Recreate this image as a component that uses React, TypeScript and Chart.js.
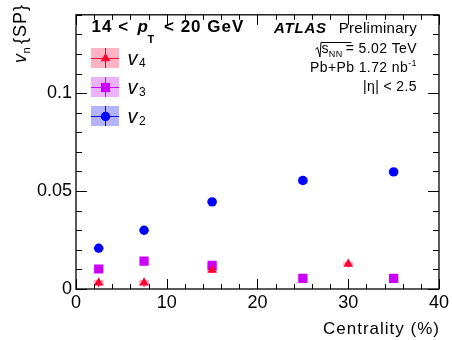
import React, { useEffect, useRef } from 'react';
import { Chart, registerables } from 'chart.js';

Chart.register(...registerables);

const FONT = '"Liberation Sans", Arial, Helvetica, sans-serif';

// ---- data ----
const centrality = [2.5, 7.5, 15, 25, 35];
const v2Values = [0.0208, 0.030, 0.0445, 0.0554, 0.0598];
const v2Stat = [0.0007, 0.0007, 0.0007, 0.0009, 0.0009];
const v2Sys = [0.0006, 0.0006, 0.0008, 0.0016, 0.0012];

const v3Values = [0.0102, 0.0142, 0.0121, 0.0054, 0.0054];
const v3Stat = [0.0009, 0.0009, 0.0009, 0.0012, 0.0014];
const v3Sys = [0.0006, 0.0008, 0.0012, 0.0012, 0.0022];

const v4Centrality = [2.5, 7.5, 15, 30];
const v4Values = [0.0032, 0.0032, 0.0097, 0.0128];
const v4Stat = [0.0022, 0.0022, 0.0016, 0.0018];
const v4Sys = [0.0014, 0.0014, 0.0012, 0.0012];

const xTickValues = [0, 10, 20, 30, 40];
const xTickLabels = ['0', '10', '20', '30', '40'];
const yTickValues = [0, 0.05, 0.1];
const yTickLabels = ['0', '0.05', '0.1'];
const xMinorStep = 2;
const yMinorStep = 0.01;

const RED = '#ff0033';
const RED_FILL = '#ffb3c3';
const MAG = '#cc00ff';
const MAG_FILL = '#ebb3ff';
const BLUE = '#0000ff';
const BLUE_FILL = '#b3b3ff';

const series = [
  { sub: '4', x: v4Centrality, y: v4Values, stat: v4Stat, sys: v4Sys, color: RED, fill: RED_FILL, style: 'triangle', radius: 5.5 },
  { sub: '3', x: centrality, y: v3Values, stat: v3Stat, sys: v3Sys, color: MAG, fill: MAG_FILL, style: 'rect', radius: 6.5 },
  { sub: '2', x: centrality, y: v2Values, stat: v2Stat, sys: v2Sys, color: BLUE, fill: BLUE_FILL, style: 'circle', radius: 4.7 },
];

function drawMarker(ctx: CanvasRenderingContext2D, style: string, x: number, y: number, color: string) {
  ctx.fillStyle = color;
  ctx.beginPath();
  if (style === 'circle') {
    ctx.arc(x, y, 4.7, 0, Math.PI * 2);
  } else if (style === 'rect') {
    ctx.rect(x - 4.6, y - 4.6, 9.2, 9.2);
  } else {
    const r = 5.5;
    ctx.moveTo(x, y - r);
    ctx.lineTo(x + r * 0.866, y + r * 0.5);
    ctx.lineTo(x - r * 0.866, y + r * 0.5);
    ctx.closePath();
  }
  ctx.fill();
}

type Seg = { t: string; f: string; dy?: number; gap?: number; sqrt?: boolean };

function drawRichRight(ctx: CanvasRenderingContext2D, right: number, base: number, segs: Seg[]) {
  let total = 0;
  const widths = segs.map((s) => {
    ctx.font = s.f;
    const w = ctx.measureText(s.t).width + (s.gap || 0);
    total += w;
    return w;
  });
  let x = right - total;
  segs.forEach((s, i) => {
    ctx.font = s.f;
    ctx.textAlign = 'left';
    ctx.fillText(s.t, x + (s.gap || 0), base + (s.dy || 0));
    x += widths[i];
  });
  return right - total;
}

const errorPlugin = {
  id: 'errorBars',
  beforeDatasetsDraw(chart: any) {
    const ctx = chart.ctx as CanvasRenderingContext2D;
    const xs = chart.scales.x;
    const ys = chart.scales.y;
    const area = chart.chartArea;
    ctx.save();
    ctx.beginPath();
    ctx.rect(area.left, area.top, area.right - area.left, area.bottom - area.top);
    ctx.clip();
    series.forEach((s) => {
      s.x.forEach((xv, i) => {
        const px = xs.getPixelForValue(xv);
        const x0 = xs.getPixelForValue(xv - 0.55);
        const x1 = xs.getPixelForValue(xv + 0.55);
        const yTop = ys.getPixelForValue(s.y[i] + s.sys[i]);
        const yBot = ys.getPixelForValue(s.y[i] - s.sys[i]);
        ctx.fillStyle = s.fill;
        ctx.fillRect(x0, yTop, x1 - x0, yBot - yTop);
        ctx.strokeStyle = s.color;
        ctx.lineWidth = 1;
        ctx.beginPath();
        ctx.moveTo(px, ys.getPixelForValue(s.y[i] + s.stat[i]));
        ctx.lineTo(px, ys.getPixelForValue(s.y[i] - s.stat[i]));
        ctx.stroke();
      });
    });
    ctx.restore();
  },
};

const decorPlugin = {
  id: 'decor',
  afterDraw(chart: any) {
    const ctx = chart.ctx as CanvasRenderingContext2D;
    const xs = chart.scales.x;
    const ys = chart.scales.y;
    const { left, right, top, bottom } = chart.chartArea;
    ctx.save();
    // frame
    ctx.strokeStyle = '#000';
    ctx.lineWidth = 1.3;
    ctx.strokeRect(left, top, right - left, bottom - top);
    ctx.lineWidth = 1;
    ctx.beginPath();
    // y ticks
    for (let v = 0; v <= ys.max + 1e-9; v += yMinorStep) {
      const py = Math.round(ys.getPixelForValue(v)) + 0.5;
      const major = yTickValues.some((t) => Math.abs(t - v) < 1e-6);
      const len = major ? 11 : 6;
      ctx.moveTo(left, py);
      ctx.lineTo(left + len, py);
      ctx.moveTo(right, py);
      ctx.lineTo(right - len, py);
    }
    // x ticks
    for (let v = 0; v <= xs.max + 1e-9; v += xMinorStep) {
      const px = Math.round(xs.getPixelForValue(v)) + 0.5;
      const major = xTickValues.some((t) => Math.abs(t - v) < 1e-6);
      const len = major ? 10 : 5;
      ctx.moveTo(px, bottom);
      ctx.lineTo(px, bottom - len);
      ctx.moveTo(px, top);
      ctx.lineTo(px, top + len);
    }
    ctx.stroke();

    ctx.fillStyle = '#000';
    ctx.textBaseline = 'alphabetic';

    // x title
    (ctx as any).letterSpacing = '1px';
    ctx.font = `17px ${FONT}`;
    ctx.textAlign = 'right';
    ctx.fillText('Centrality (%)', right + 1, 334);

    // y title (rotated)
    ctx.save();
    ctx.translate(26, 63);
    ctx.rotate(-Math.PI / 2);
    ctx.textAlign = 'left';
    (ctx as any).letterSpacing = '0px';
    ctx.font = `italic 18px ${FONT}`;
    ctx.fillText('v', 0, 0);
    ctx.font = `11px ${FONT}`;
    ctx.fillText('n', 9.5, 4);
    (ctx as any).letterSpacing = '1px';
    ctx.font = `18px ${FONT}`;
    ctx.fillText('{SP}', 19, 0);
    ctx.restore();

    // pT label
    ctx.textAlign = 'left';
    (ctx as any).letterSpacing = '1px';
    ctx.font = `bold 17px ${FONT}`;
    ctx.fillText('14 <', 91.5, 31.5);
    ctx.font = `bold italic 17px ${FONT}`;
    ctx.fillText('p', 137.5, 31.5);
    ctx.font = `bold 11px ${FONT}`;
    ctx.fillText('T', 147.5, 43);
    ctx.font = `bold 17px ${FONT}`;
    ctx.fillText('< 20 GeV', 164, 31.5);

    // ATLAS Preliminary
    (ctx as any).letterSpacing = '0.8px';
    ctx.font = `bold italic 15px ${FONT}`;
    ctx.fillText('ATLAS', 274, 33.3);
    (ctx as any).letterSpacing = '0.3px';
    ctx.font = `15px ${FONT}`;
    ctx.textAlign = 'right';
    ctx.fillText('Preliminary', 417, 33.3);

    // sqrt(s_NN)
    (ctx as any).letterSpacing = '0.4px';
    const startX = drawRichRight(ctx, 417, 53.3, [
      { t: 's', f: `14px ${FONT}` },
      { t: 'NN', f: `9px ${FONT}`, dy: 4 },
      { t: '= 5.02 TeV', f: `14px ${FONT}`, gap: 3 },
    ]);
    ctx.beginPath();
    ctx.lineWidth = 1;
    ctx.moveTo(startX - 6, 49);
    ctx.lineTo(startX - 4, 47.5);
    ctx.lineTo(startX - 1.5, 57);
    ctx.lineTo(startX - 0.5, 42.5);
    ctx.lineTo(startX + 30, 42.5);
    ctx.stroke();

    drawRichRight(ctx, 417, 71.7, [
      { t: 'Pb+Pb 1.72 nb', f: `14px ${FONT}` },
      { t: '-1', f: `9px ${FONT}`, dy: -6 },
    ]);
    drawRichRight(ctx, 417, 91, [{ t: '|\u03b7| < 2.5', f: `14px ${FONT}` }]);

    // legend
    (ctx as any).letterSpacing = '0px';
    const legendY = [58, 87, 116];
    series.forEach((s, i) => {
      const cy = legendY[i];
      const bx = 91;
      const bw = 28;
      const bh = 20;
      ctx.fillStyle = s.fill;
      ctx.fillRect(bx, cy - bh / 2, bw, bh);
      ctx.strokeStyle = s.color;
      ctx.lineWidth = 1;
      ctx.beginPath();
      ctx.moveTo(bx, cy + 0.5);
      ctx.lineTo(bx + bw, cy + 0.5);
      ctx.moveTo(bx + bw / 2 + 0.5, cy - bh / 2);
      ctx.lineTo(bx + bw / 2 + 0.5, cy + bh / 2);
      ctx.stroke();
      drawMarker(ctx, s.style, bx + bw / 2 + 0.5, cy + 0.5, s.color);
      ctx.fillStyle = '#000';
      ctx.textAlign = 'left';
      ctx.font = `italic 20px ${FONT}`;
      ctx.fillText('v', 127.5, cy + 7);
      ctx.font = `12px ${FONT}`;
      ctx.fillText(s.sub, 139, cy + 9);
    });
    ctx.restore();
  },
};

export default function App() {
  const ref = useRef<HTMLCanvasElement | null>(null);
  useEffect(() => {
    if (!ref.current) return;
    const chart = new Chart(ref.current, {
      type: 'scatter',
      data: {
        datasets: series.map((s) => ({
          label: 'v' + s.sub,
          data: s.x.map((xv, i) => ({ x: xv, y: s.y[i] })),
          pointStyle: s.style as any,
          pointRadius: s.radius,
          pointHoverRadius: s.radius,
          backgroundColor: s.color,
          borderColor: s.color,
          pointBorderWidth: 0,
          borderWidth: 0,
          showLine: false,
        })),
      },
      options: {
        responsive: false,
        devicePixelRatio: 1,
        animation: false,
        events: [],
        layout: { padding: { left: 0, top: 9, right: 12, bottom: 0 } },
        plugins: { legend: { display: false }, tooltip: { enabled: false } },
        scales: {
          x: {
            type: 'linear',
            min: 0,
            max: 40,
            grid: { display: false, drawTicks: false },
            border: { display: false },
            afterBuildTicks: (scale: any) => {
              scale.ticks = xTickValues.map((value) => ({ value }));
            },
            afterFit: (scale: any) => {
              scale.height = 51;
            },
            ticks: {
              autoSkip: false,
              maxRotation: 0,
              padding: 3,
              color: '#000',
              font: { family: FONT, size: 18 },
              callback: (_v: any, i: number) => xTickLabels[i],
            },
          },
          y: {
            type: 'linear',
            min: 0,
            max: 0.14,
            grid: { display: false, drawTicks: false },
            border: { display: false },
            afterBuildTicks: (scale: any) => {
              scale.ticks = yTickValues.map((value) => ({ value }));
            },
            afterFit: (scale: any) => {
              scale.width = 76;
            },
            ticks: {
              autoSkip: false,
              padding: 4,
              color: '#000',
              font: { family: FONT, size: 18 },
              callback: (_v: any, i: number) => yTickLabels[i],
            },
          },
        },
      },
      plugins: [errorPlugin, decorPlugin],
    });
    return () => chart.destroy();
  }, []);
  return (
    <div style={{ position: 'fixed', left: 0, top: 0, width: 452, height: 340, background: '#fff' }}>
      <canvas ref={ref} width={452} height={340} style={{ display: 'block' }} />
    </div>
  );
}
